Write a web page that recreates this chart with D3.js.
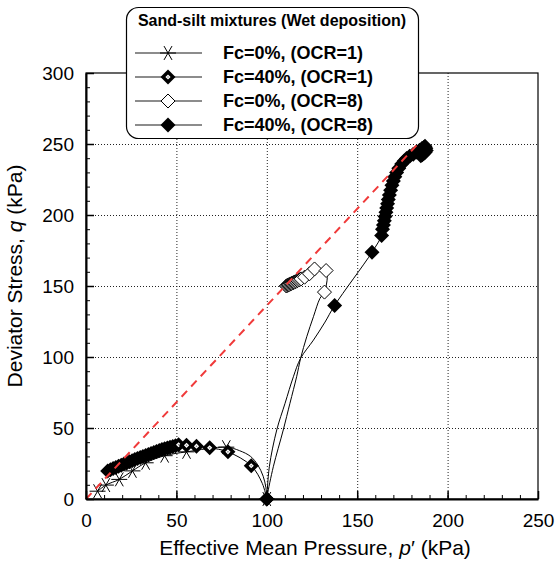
<!DOCTYPE html>
<html>
<head>
<meta charset="utf-8">
<script src="https://cdn.jsdelivr.net/npm/d3@7"></script>
<style>
  body { margin: 0; background: #fff; }
  svg { display: block; font-family: 'Liberation Sans', Arial, sans-serif; }
</style>
</head>
<body>
<svg id="chart" width="555" height="561"></svg>
<script>
/* axis ticks */
const xMajorTicks = [0, 50, 100, 150, 200, 250];
const yMajorTicks = [0, 50, 100, 150, 200, 250, 300];

/* Fc=0%, (OCR=1) - asterisk */
const s1CurveP = [99.5, 98, 95, 91, 85];
const s1CurveQ = [8, 16, 24, 30, 34];
const s1P = [77.6, 55.6, 43.5, 33, 25.7, 18.4, 11, 6.4];
const s1Q = [36.5, 33.2, 30.5, 25.5, 19.8, 13.8, 9.8, 5.5];

/* Fc=40%, (OCR=1) - dotted diamond */
const s2CurveP = [97.5];
const s2CurveQ = [11];
const s2P = [91.4, 78.5, 68.4, 61.1, 55.6, 51.2, 49.5, 48, 46.5, 45, 43.5, 42, 40.5, 39, 37.5, 36,
  34.5, 33, 31.5, 30, 28.5, 27, 25.5, 24, 22.5, 21, 19.5, 18, 16.5, 15, 13.5, 12];
const s2Q = [23.4, 33.2, 36.1, 37.2, 37.8, 38.2, 37.5, 37, 36.5, 36, 35.4, 34.8, 34.2, 33.5, 32.8, 32.1,
  31.4, 30.7, 30, 29.3, 28.5, 27.8, 27, 26.2, 25.4, 24.6, 23.8, 23, 22.2, 21.4, 20.6, 19.8];

/* Fc=0%, (OCR=8) - open diamond */
const s3CurveP = [100.3, 103.6, 109.1, 112.8, 116.5, 118.7, 122.1, 125.8, 129.4];
const s3CurveQ = [2.8, 22.7, 48.6, 67.4, 86.1, 99.1, 114.3, 128.4, 141.3];
const s3P = [131.9, 132.8, 126.4, 123.6, 120.9, 119, 118.3, 117.6, 117, 116.4, 115.8, 115.2, 114.7,
  114.2, 113.7, 113.2, 112.7, 112.2, 111.7, 111.2, 110.8];
const s3Q = [145.7, 160.9, 162, 158.6, 156.2, 155, 154.6, 154.2, 153.8, 153.4, 153, 152.7, 152.4,
  152.1, 151.8, 151.5, 151.2, 150.9, 150.6, 150.3, 150];

/* Fc=40%, (OCR=8) - filled diamond */
const s4CurveP = [101.4, 105.5, 110.1, 114.7, 118.7, 125.8, 132.2];
const s4CurveQ = [22.7, 48.6, 67.4, 86.1, 99.1, 111.9, 124.6];
const s4P = [137.5, 158.2, 163.5, 164, 164.5, 165, 165.4, 165.9, 166.3, 166.8, 167.2, 167.8, 168.5,
  169.2, 170, 170.8, 171.8, 173, 174.6, 176, 177.3, 179, 181, 182.8, 184.5, 185.8, 186.8, 187.5,
  188, 188.2, 187.6, 186.8, 186, 185.2];
const s4Q = [136.3, 173.8, 185.5, 190, 193, 196, 199, 202, 205, 208, 211, 214, 217.5, 221, 224, 227,
  230, 233, 236, 238, 239.8, 241.3, 242.8, 244.3, 245.6, 246.8, 247.6, 248.4, 247, 245.5, 244.2,
  243.3, 242.5, 241.8];

/* shared start point of every test */
const startP = 100;
const startQ = 0;

/* critical state line */
const cslP = [0, 185];
const cslQ = [0, 252];

const legendTitle = 'Sand-silt mixtures (Wet deposition)';
const legendLabels = ['Fc=0%, (OCR=1)', 'Fc=40%, (OCR=1)', 'Fc=0%, (OCR=8)', 'Fc=40%, (OCR=8)'];

function drawChart(id) {
  const margin = { top: 73, right: 17, bottom: 62, left: 86 };
  const totalWidth = 555;
  const totalHeight = 561;
  const width = totalWidth - margin.left - margin.right;
  const height = totalHeight - margin.top - margin.bottom;
  const MARKER = 7.5;
  const FONT = "'Liberation Sans', Arial, sans-serif";

  const svg = d3.select(id);

  const xScale = d3.scaleLinear([0, 250], [margin.left, margin.left + width]);
  const yScale = d3.scaleLinear([0, 300], [margin.top + height, margin.top]);

  function diamond(r) {
    return `M0,${-r}L${r},0L0,${r}L${-r},0Z`;
  }

  function asterisk(r) {
    const a = Math.PI / 3;
    let d = `M${-r},0L${r},0`;
    [a, -a].forEach(function (t) {
      d += `M${-r * Math.cos(t)},${-r * Math.sin(t)}L${r * Math.cos(t)},${r * Math.sin(t)}`;
    });
    return d;
  }

  function drawMarker(g, type, x, y) {
    const m = g.append('g').attr('transform', `translate(${x},${y})`);
    if (type === 'asterisk') {
      m.append('path').attr('d', asterisk(MARKER + 0.5)).attr('stroke', '#000').attr('stroke-width', 1).attr('fill', 'none');
    } else if (type === 'dotDiamond') {
      m.append('path').attr('d', diamond(MARKER)).attr('fill', '#000');
      m.append('path').attr('d', diamond(2.6)).attr('fill', '#fff');
      m.append('circle').attr('r', 0.8).attr('fill', '#888');
    } else if (type === 'openDiamond') {
      m.append('path').attr('d', diamond(MARKER - 0.5)).attr('fill', '#fff').attr('stroke', '#000').attr('stroke-width', 1);
    } else {
      m.append('path').attr('d', diamond(MARKER)).attr('fill', '#000');
    }
  }

  /* grid lines */
  const grid = svg.append('g').attr('stroke', '#222').attr('stroke-width', 1).attr('stroke-dasharray', '1,2');
  grid.selectAll('.vgrid')
    .data(xMajorTicks.filter((d) => d > 0 && d < 250))
    .enter()
    .append('line')
    .attr('x1', (d) => xScale(d) + 0.5)
    .attr('x2', (d) => xScale(d) + 0.5)
    .attr('y1', margin.top)
    .attr('y2', margin.top + height);
  grid.selectAll('.hgrid')
    .data(yMajorTicks.filter((d) => d > 0 && d < 300))
    .enter()
    .append('line')
    .attr('y1', (d) => yScale(d) + 0.5)
    .attr('y2', (d) => yScale(d) + 0.5)
    .attr('x1', margin.left)
    .attr('x2', margin.left + width);

  /* series */
  const series = [
    { type: 'asterisk', curveP: s1CurveP, curveQ: s1CurveQ, p: s1P, q: s1Q },
    { type: 'dotDiamond', curveP: s2CurveP, curveQ: s2CurveQ, p: s2P, q: s2Q },
    { type: 'openDiamond', curveP: s3CurveP, curveQ: s3CurveQ, p: s3P, q: s3Q },
    { type: 'filledDiamond', curveP: s4CurveP, curveQ: s4CurveQ, p: s4P, q: s4Q },
  ];

  const line = d3.line()
    .x((d) => xScale(d[0]))
    .y((d) => yScale(d[1]))
    .curve(d3.curveCatmullRom.alpha(0.5));

  series.forEach(function (s) {
    const marked = [[startP, startQ]].concat(s.p.map((p, i) => [p, s.q[i]]));
    const path = [[startP, startQ]]
      .concat(s.curveP.map((p, i) => [p, s.curveQ[i]]))
      .concat(s.p.map((p, i) => [p, s.q[i]]));
    s.marked = marked;

    svg.append('path')
      .attr('fill', 'none')
      .attr('stroke', '#000')
      .attr('stroke-width', 1)
      .attr('d', line(path));
  });

  series.forEach(function (s) {
    const g = svg.append('g');
    s.marked.slice().reverse().forEach(function (d) {
      drawMarker(g, s.type, xScale(d[0]), yScale(d[1]));
    });
  });

  /* critical state line */
  svg.append('path')
    .attr('fill', 'none')
    .attr('stroke', '#f03a3a')
    .attr('stroke-width', 2)
    .attr('stroke-dasharray', '8,6')
    .attr('d', d3.line().x((d) => xScale(d[0])).y((d) => yScale(d[1]))(cslP.map((p, i) => [p, cslQ[i]])));

  /* frame */
  svg.append('rect')
    .attr('x', margin.left)
    .attr('y', margin.top)
    .attr('width', width)
    .attr('height', height)
    .attr('fill', 'none')
    .attr('stroke', '#000')
    .attr('stroke-width', 1.2);

  /* bottom axis */
  const minorX = d3.range(0, 251, 10);
  svg.append('g')
    .attr('transform', `translate(0, ${margin.top + height})`)
    .call(d3.axisBottom(xScale).tickValues(minorX).tickSizeInner(-4).tickSizeOuter(0).tickFormat(''))
    .call((g) => g.select('.domain').attr('stroke-width', 2));
  svg.append('g')
    .attr('transform', `translate(0, ${margin.top + height})`)
    .call(d3.axisBottom(xScale).tickValues(xMajorTicks).tickSizeInner(-8).tickSizeOuter(0).tickPadding(15))
    .call((g) => g.select('.domain').remove())
    .call((g) => g.selectAll('line').attr('stroke-width', 1.5))
    .call((g) => g.selectAll('text').attr('font-size', 19).attr('fill', '#000').attr('font-family', FONT));

  /* left axis */
  const minorY = d3.range(0, 301, 10);
  svg.append('g')
    .attr('transform', `translate(${margin.left}, 0)`)
    .call(d3.axisLeft(yScale).tickValues(minorY).tickSizeInner(-4).tickSizeOuter(0).tickFormat(''))
    .call((g) => g.select('.domain').attr('stroke-width', 2));
  svg.append('g')
    .attr('transform', `translate(${margin.left}, 0)`)
    .call(d3.axisLeft(yScale).tickValues(yMajorTicks).tickSizeInner(-8).tickSizeOuter(0).tickPadding(12))
    .call((g) => g.select('.domain').remove())
    .call((g) => g.selectAll('line').attr('stroke-width', 1.5))
    .call((g) => g.selectAll('text').attr('font-size', 19).attr('fill', '#000').attr('font-family', FONT));

  /* axis titles */
  const xTitle = svg.append('text')
    .attr('x', margin.left + width / 2 + 3)
    .attr('y', 555)
    .attr('text-anchor', 'middle')
    .attr('font-size', 21);
  xTitle.append('tspan').text('Effective Mean Pressure, ');
  xTitle.append('tspan').attr('font-style', 'italic').text('p');
  xTitle.append('tspan').text('\u2032 (kPa)');

  const yTitle = svg.append('text')
    .attr('transform', `translate(22, ${margin.top + height / 2 - 10}) rotate(-90)`)
    .attr('text-anchor', 'middle')
    .attr('font-size', 21);
  yTitle.append('tspan').text('Deviator Stress, ');
  yTitle.append('tspan').attr('font-style', 'italic').text('q');
  yTitle.append('tspan').text(' (kPa)');

  /* legend */
  const legend = svg.append('g');
  legend.append('rect')
    .attr('x', 126.5)
    .attr('y', 7.5)
    .attr('width', 292)
    .attr('height', 131)
    .attr('rx', 12)
    .attr('fill', '#fff')
    .attr('stroke', '#000')
    .attr('stroke-width', 1.2);
  legend.append('text')
    .attr('x', 272)
    .attr('y', 26)
    .attr('text-anchor', 'middle')
    .attr('font-size', 16)
    .attr('font-weight', 'bold')
    .text(legendTitle);

  series.forEach(function (s, i) {
    const y = 53 + i * 24;
    legend.append('line')
      .attr('x1', 135)
      .attr('x2', 202)
      .attr('y1', y)
      .attr('y2', y)
      .attr('stroke', '#666')
      .attr('stroke-width', 1.5);
    drawMarker(legend, s.type, 168, y);
    legend.append('text')
      .attr('x', 223)
      .attr('y', y + 6)
      .attr('font-size', 18)
      .attr('font-weight', 'bold')
      .text(legendLabels[i]);
  });
}

drawChart('#chart');
</script>
</body>
</html>
